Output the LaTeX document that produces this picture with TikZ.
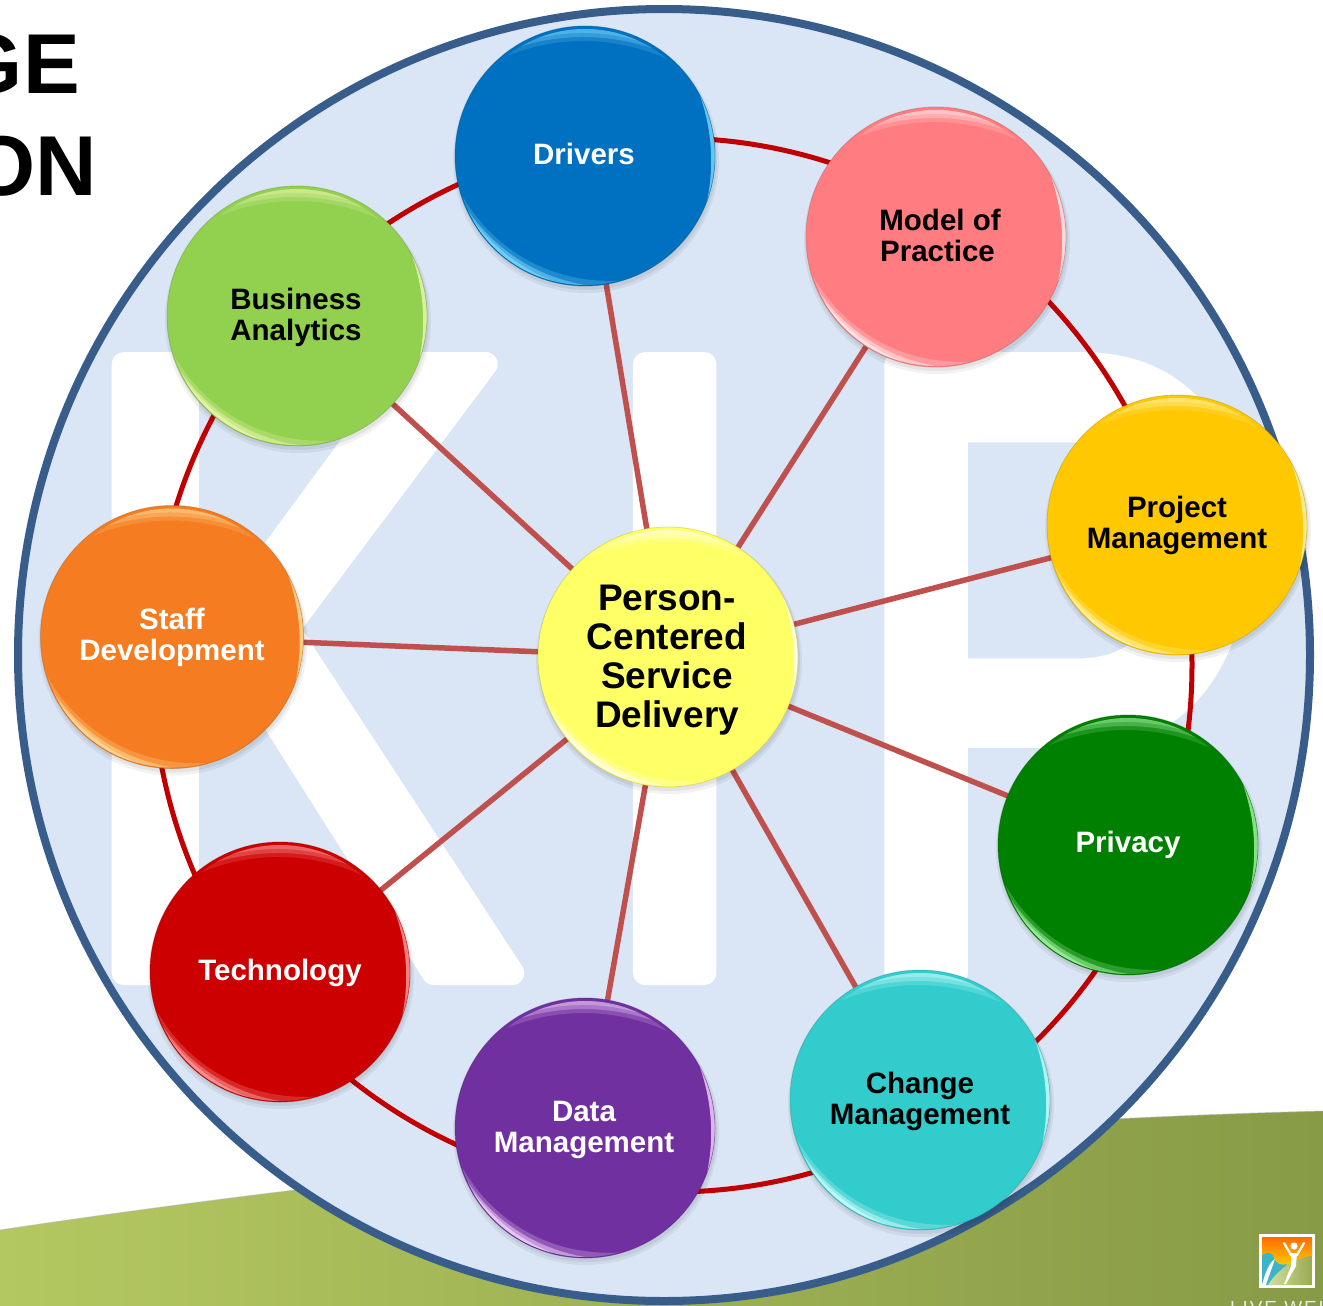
\documentclass[tikz,border=0pt]{standalone}
\usepackage{fontspec}
\setmainfont{Liberation Sans}
\newfontfamily\ghostfont[FakeStretch=.72]{Liberation Sans}
\newfontfamily\ghostfontK[FakeStretch=.765]{Liberation Sans}
\usetikzlibrary{calc,shapes.geometric}
\pgfdeclarelayer{backdrop}
\pgfdeclarelayer{under}
\pgfsetlayers{backdrop,under,main}
\definecolor{discblue}{HTML}{DAE5F5}
\definecolor{discedge}{HTML}{385D8A}
\definecolor{ringred}{HTML}{C00000}
\definecolor{spoke}{HTML}{C0504D}
\definecolor{bandl}{HTML}{B4C861}
\definecolor{bandr}{HTML}{879A46}
\definecolor{cDrivers}{HTML}{0070C0}
\definecolor{cModel}{HTML}{FF7C80}
\definecolor{cProject}{HTML}{FFC800}
\definecolor{cPrivacy}{HTML}{008000}
\definecolor{cChange}{HTML}{33CCCC}
\definecolor{cData}{HTML}{7030A0}
\definecolor{cTech}{HTML}{CC0000}
\definecolor{cStaff}{HTML}{F57C20}
\definecolor{cBiz}{HTML}{92D050}
\definecolor{cHub}{HTML}{FFFF66}
\definecolor{hlBlue}{HTML}{7FDCFF}
\definecolor{hlPink}{HTML}{FFF0F0}
\definecolor{hlGold}{HTML}{FFF4B0}
\definecolor{hlGreen}{HTML}{A8F8A8}
\definecolor{hlTeal}{HTML}{D0FFFF}
\definecolor{hlViolet}{HTML}{F6D8FF}
\definecolor{hlRed}{HTML}{FFA0A0}
\definecolor{hlOrange}{HTML}{FFE0A0}
\definecolor{hlLime}{HTML}{EEF8B0}
\definecolor{hlHub}{HTML}{FFFFF0}
\definecolor{logoTeal}{HTML}{3BB4C8}
\tikzset{
  x=1pt,y=-1pt,
  ball/.style={circle,inner sep=0pt,line width=0pt},
  lbl/.style={font=\fontsize{29.5}{31}\selectfont\bfseries,align=center,inner sep=0pt},
  hublbl/.style={font=\fontsize{37}{39}\selectfont\bfseries,align=center,inner sep=0pt},
  spokeline/.style={spoke,line width=5.5pt},
  ghost/.style={white,inner sep=0pt,anchor=base west,font=\fontsize{885}{885}\ghostfont},
  titletxt/.style={font=\fontsize{85}{85}\selectfont\bfseries,inner sep=0pt,anchor=base east},
}
\newcommand{\ghosttext}[1]{\special{pdf:code q 2 Tr 24 w 1 j 1 J 1 1 1 RG}#1\special{pdf:code Q}}
\def\ballR{130}
% crescent: #1 x, #2 y, #3 from angle, #4 to angle (screen, anticlockwise), #5 radius, #6 thickness, #7 colour, #8 opacity
\newcommand{\crescent}[8]{%
  \pgfmathsetmacro{\rr}{#5}%
  \pgfmathsetmacro{\sw}{(#4)-(#3)}%
  \pgfmathsetmacro{\rc}{(\rr-(#6)-0.25*\rr*cos(\sw/2))/(0.75*cos(\sw/6))}%
  \fill[#7,opacity=#8] ({#1+\rr*cos(#3)},{#2-\rr*sin(#3)}) arc[start angle={-(#3)},end angle={-(#4)},radius=\rr]
    .. controls ({#1+\rc*cos((#4)-\sw/3)},{#2-\rc*sin((#4)-\sw/3)}) and ({#1+\rc*cos((#3)+\sw/3)},{#2-\rc*sin((#3)+\sw/3)}) .. cycle;
}
% #1 name, #2 x, #3 y, #4 fill, #5 highlight, #6 text colour, #7 text, #8 dx, #9 dy
\newcommand{\gloss}[9]{%
  \fill[black,opacity=.05] (#2+1,#3+4) circle (\ballR+3);
  \fill[black,opacity=.06] (#2+1,#3+3) circle (\ballR+1);
  \node[ball,minimum size=2*\ballR pt,fill=#4] (#1) at (#2,#3) {};
  \crescent{#2}{#3}{50}{128}{\ballR-3}{12}{#5}{.18}
  \crescent{#2}{#3}{58}{120}{\ballR-3}{8}{#5}{.3}
  \crescent{#2}{#3}{65}{112}{\ballR-3}{4}{#5}{.35}
  \crescent{#2}{#3}{198}{285}{\ballR-1}{10}{#5}{.25}
  \crescent{#2}{#3}{205}{270}{\ballR-1}{6}{#5}{.5}
  \crescent{#2}{#3}{210}{255}{\ballR-1}{3}{#5}{.7}
  \crescent{#2}{#3}{-20}{28}{\ballR}{4}{#5}{.8}
  \draw[#4!70!black,line width=.8pt,opacity=.4] (#2,#3) circle (\ballR);
  \node[lbl,text=#6] (#1-label) at (#2+#8,#3+#9) {#7};
}
\begin{document}
\begin{tikzpicture}
\useasboundingbox (0,0) rectangle (1323,1306);
\clip (0,0) rectangle (1323,1306);
\begin{pgfonlayer}{backdrop}
\fill[white] (0,0) rectangle (1323,1306);
\shade[left color=bandl,right color=bandr]
  (0,1230) .. controls (300,1185) and (800,1125) .. (1323,1111) -- (1323,1306) -- (0,1306) -- cycle;
\draw[black!30,line width=1pt,opacity=.5]
  (0,1230) .. controls (300,1185) and (800,1125) .. (1323,1111);
\node[titletxt] (titleA) at (80,93) {GE};
\node[titletxt] (titleB) at (97,195) {ON};
\node[white!80!bandr,font=\fontsize{19}{19}\selectfont\addfontfeature{LetterSpace=10},anchor=base west,inner sep=0pt] (live) at (1230,1314) {LIVE WELL};
\fill[white] (1259,1234) rectangle (1315,1288);
\begin{scope}
  \clip (1262,1237) rectangle (1312,1285);
  \shade[top color=orange!85!red,bottom color=yellow!75!orange] (1262,1237) rectangle (1312,1272);
  \fill[logoTeal] (1262,1255) .. controls (1268,1252) and (1272,1252) .. (1274,1258) .. controls (1276,1264) and (1282,1266) .. (1287,1264) -- (1272,1285) -- (1262,1285) -- cycle;
  \fill[white] (1262,1285) .. controls (1266,1270) and (1270,1262) .. (1275,1259) .. controls (1272,1268) and (1268,1278) .. (1266,1285) -- cycle;
  \shade[left color=bandl!60!white,right color=bandl!85!black] (1312,1256) .. controls (1292,1258) and (1276,1272) .. (1268,1285) -- (1312,1285) -- cycle;
  \fill[white] (1294,1246) circle (3.6);
  \draw[white,line width=2.2pt,line cap=round,line join=round] (1284,1243) -- (1291,1255) -- (1297,1255) -- (1304,1243);
  \fill[white] (1291,1253) -- (1297,1253) -- (1296,1266) -- (1286,1284) -- (1284,1284) -- (1291,1266) -- cycle;
\end{scope}
\fill[discblue] (664,655) circle (646);
\begin{scope}
  \clip (664,655) circle (646);
  \node[ghost,font=\fontsize{885}{885}\ghostfontK] (ghostK) at (68,973) {\ghosttext{K}};
  \node[ghost] (ghostI) at (586,973) {\ghosttext{I}};
  \node[ghost] (ghostP) at (844,973) {\ghosttext{P}};
\end{scope}
\node[ellipse,draw=ringred,line width=5pt,minimum width=1040pt,minimum height=1054pt,inner sep=0pt] (ring) at (672,665) {};
\node[circle,draw=discedge,line width=8pt,minimum size=1292pt,inner sep=0pt] (disc) at (664,655) {};
\end{pgfonlayer}
\gloss{drivers}{585}{156}{cDrivers}{hlBlue}{white}{Drivers}{-1}{-2}
\gloss{model}{936}{237}{cModel}{hlPink}{black}{Model of\\Practice\hspace*{5pt}}{4}{-2}
\gloss{project}{1177}{525}{cProject}{hlGold}{black}{Project\\Management}{0}{0}
\gloss{privacy}{1128}{845}{cPrivacy}{hlGreen}{white}{Privacy}{0}{0}
\gloss{change}{920}{1100}{cChange}{hlTeal}{black}{Change\\Management}{0}{1}
\gloss{data}{585}{1128}{cData}{hlViolet}{white}{Data\\Management}{-1}{2}
\gloss{tech}{280}{972}{cTech}{hlRed}{white}{Technology}{0}{1}
\def\ballR{131.5}
\gloss{staff}{172}{637}{cStaff}{hlOrange}{white}{Staff\\Development}{0}{0}
\def\ballR{130}
\gloss{analytics}{297}{316}{cBiz}{hlLime}{black}{Business\\Analytics}{-1}{1}
\gloss{hub}{668}{657}{cHub}{hlHub}{black}{}{0}{0}
\node[hublbl] (hubtext) at (667,660) {Person-\\Centered\\Service\\Delivery};
\begin{pgfonlayer}{under}
\foreach \n in {drivers,model,project,privacy,change,data,tech,staff,analytics}
  \draw[spokeline] (hub) -- (\n);
\end{pgfonlayer}
\end{tikzpicture}
\end{document}
